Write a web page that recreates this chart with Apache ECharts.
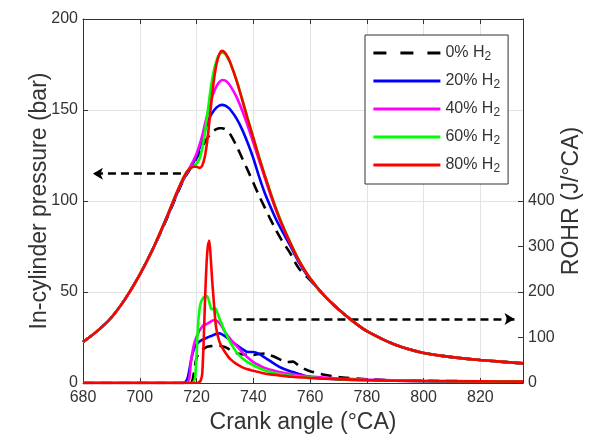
<!DOCTYPE html>
<html>
<head>
<meta charset="utf-8">
<script src="https://cdn.jsdelivr.net/npm/echarts@6/dist/echarts.min.js"></script>
<style>
  html, body { margin: 0; padding: 0; background: #fff; }
  #chart { width: 603px; height: 437px; }
</style>
</head>
<body>
<div id="chart"></div>
<script>
// Crank angle grids (°CA)
const crankP = [680, 685, 690, 695, 700, 705, 710, 713, 715, 716, 717, 718, 719, 720, 721, 722, 723, 724, 725, 726, 727, 728, 729, 730, 731, 732, 734, 736, 738, 740, 742, 744, 746, 748, 750, 753, 756, 760, 765, 770, 775, 780, 790, 800, 810, 820, 835];
const crankR = [680, 715, 716, 716.5, 717, 717.5, 718, 718.5, 719, 719.5, 720, 720.5, 721, 721.5, 722, 722.5, 723, 723.5, 724, 724.5, 725, 725.5, 726, 726.5, 727, 728, 729, 730, 731, 732, 734, 736, 738, 740, 742, 744, 746, 748, 750, 752, 754, 756, 758, 760, 765, 770, 780, 790, 800, 820, 835];

// In-cylinder pressure (bar)
const pressure0  = [22.5, 28.5, 36, 46.5, 59.5, 74.8, 92, 103.3, 110.3, 113.3, 115.8, 118.2, 120.7, 123.5, 126.5, 129.5, 132.5, 135, 137, 138.5, 139.5, 140, 140, 139.5, 138.3, 136.3, 130.5, 123.8, 117, 110, 103, 96.5, 90, 84, 78.5, 71.3, 63, 56.5, 48, 40.5, 34, 28.5, 21, 16.5, 14.2, 12.6, 10.8];
const pressure20 = [22.5, 28.5, 36, 46.5, 59.5, 74.8, 92.3, 103.6, 110.6, 113.6, 116.2, 118.7, 121.3, 124.6, 128.8, 134, 139, 143.5, 147, 149.5, 151.3, 152.4, 152.8, 152.5, 151.5, 150, 145.5, 139.5, 132, 123.5, 113.5, 104.5, 97, 90, 84, 75.5, 66.5, 57, 48, 40.5, 34, 28.5, 21, 16.5, 14.2, 12.6, 10.8];
const pressure40 = [22.5, 28.5, 36, 46.5, 59.5, 75, 93, 104.3, 111.2, 114, 116.6, 119.5, 122.5, 126, 130.5, 136, 142.5, 149, 155, 159.5, 163, 165.3, 166.5, 166.3, 165, 163, 157.5, 150, 141.5, 132, 122.5, 113, 103.5, 95, 87, 76.8, 67.3, 57.4, 48, 40.5, 34, 28.5, 21, 16.5, 14.2, 12.6, 10.8];
const pressure60 = [22.5, 28.5, 36, 46.5, 59.5, 75, 93, 104.5, 111.5, 114.5, 116.8, 118.2, 119.2, 120.5, 123, 129, 138, 150, 162, 171, 177, 180.5, 181.5, 181, 178.5, 175.5, 167, 156.5, 145.5, 135, 124.5, 114.5, 105, 96, 88, 77.3, 67.7, 57.6, 48, 40.5, 34, 28.5, 21, 16.5, 14.2, 12.6, 10.8];
const pressure80 = [22.5, 28.5, 36, 46.5, 59.5, 75, 93, 104.5, 111.5, 114.5, 116.8, 118.2, 118.8, 118.8, 118.2, 119.5, 125, 136, 151, 165, 175, 180.5, 182.5, 181.5, 179, 175.5, 166.5, 156, 145, 134.5, 124, 114, 104.5, 95.5, 87.5, 77, 67.5, 57.5, 48, 40.5, 34, 28.5, 21, 16.5, 14.2, 12.6, 10.8];

// Rate of heat release (J/°CA)
const rohr0  = [0, 0, 0, 0, 0, 0, 0, 5, 20, 40, 55, 62, 67, 70, 72.5, 75, 77, 79, 80, 80.5, 81, 81.5, 82, 82, 82, 82, 81, 79, 76, 72, 66, 63, 61.5, 61.5, 64, 65, 61, 56, 50, 46, 47, 38, 31, 26, 18, 13, 8, 6, 5, 3.5, 3];
const rohr20 = [0, 0, 2, 6, 14, 30, 48, 62, 73, 80, 85, 88, 91, 93, 95, 96, 97.5, 99, 100.5, 102, 103, 104, 105.5, 107, 108, 109, 107, 103, 98, 93, 84, 75, 68, 68, 64, 56, 48, 40, 33, 28, 24, 20, 16, 13, 10, 8, 6, 5, 4, 3, 2.5];
const rohr40 = [0, 0, 0, 0, 3, 12, 45, 66, 82, 93, 101, 108, 115, 120, 124, 127, 128, 129.5, 131, 133, 135, 137, 138, 138, 137, 132, 124, 112, 104, 96, 82, 68, 56, 46, 39, 33, 29, 26, 23, 21, 19, 17, 15.5, 14, 12, 10, 7.5, 6, 5, 4, 3.5];
const rohr60 = [0, 0, 0, 0, 0, 0, 0, 0, 3, 12, 60, 125, 160, 177, 184, 188, 190, 191, 188, 177, 165, 162, 164, 165, 160, 143, 128, 113, 100, 88, 68, 55, 46, 39, 33, 28, 24, 21, 19, 17, 15.5, 14, 13, 12, 10, 8.5, 6.5, 5.5, 4.5, 3.5, 3];
const rohr80 = [0, 0, 0, 0, 0, 0, 0, 0, 0, 0, 0, 0.5, 2, 6, 20, 90, 185, 260, 302, 313, 275, 225, 185, 145, 118, 92, 78, 68, 59, 52, 42, 35, 30, 27, 24, 21, 19, 17.5, 16, 14.5, 13.5, 12.5, 12, 11, 9.5, 8.5, 6.5, 5, 4.5, 3.5, 3];

// Legend entries and axis ticks
const seriesNames = ['0% H2', '20% H2', '40% H2', '60% H2', '80% H2'];
const xTicks = [680, 700, 720, 740, 760, 780, 800, 820];
const rohrTicks = [0, 100, 200, 300, 400];

// Annotation arrows: pressure curves read on the left axis, ROHR on the right
const arrowPressure = [[714.5, 115], [683.5, 115]];
const arrowRohr = [[733, 140.5], [832, 140.5]];

const colors = ['#000000', '#0000ff', '#ff00ff', '#00ff00', '#ff0000'];
const FONT = '"Liberation Sans", Arial, Helvetica, sans-serif';
const TEXT = '#333333';
const AXIS = '#333333';

const pressures = [pressure0, pressure20, pressure40, pressure60, pressure80];
const rohrs = [rohr0, rohr20, rohr40, rohr60, rohr80];
const toPairs = (xs, ys) => xs.map((x, i) => [x, ys[i]]);

function lineStyleFor(i) {
  return {
    color: colors[i],
    width: 2.6,
    type: i === 0 ? [11, 7] : 'solid',
    cap: 'butt'
  };
}

function arrowMark(points) {
  return {
    silent: true,
    symbol: ['none', 'arrow'],
    symbolSize: [9, 10],
    label: { show: false },
    emphasis: { disabled: true },
    lineStyle: { color: '#000', width: 2.5, type: [8, 5] },
    data: [[{ coord: points[0] }, { coord: points[1] }]]
  };
}

const series = [];
pressures.forEach((vals, i) => {
  series.push({
    name: seriesNames[i],
    type: 'line',
    xAxisIndex: 0,
    yAxisIndex: 0,
    data: toPairs(crankP, vals),
    symbol: 'none',
    smooth: 0.25,
    lineStyle: lineStyleFor(i),
    itemStyle: { color: colors[i] },
    emphasis: { disabled: true },
    z: 2 + i,
    markLine: i === 0 ? arrowMark(arrowPressure) : undefined
  });
});
rohrs.forEach((vals, i) => {
  series.push({
    name: seriesNames[i],
    type: 'line',
    xAxisIndex: 0,
    yAxisIndex: 1,
    data: toPairs(crankR, vals),
    symbol: 'none',
    smooth: 0.2,
    lineStyle: lineStyleFor(i),
    itemStyle: { color: colors[i] },
    emphasis: { disabled: true },
    z: 2 + i,
    markLine: i === 0 ? arrowMark(arrowRohr) : undefined
  });
});

const option = {
  animation: false,
  backgroundColor: '#ffffff',
  textStyle: { fontFamily: FONT },
  grid: { left: 83, right: 80, top: 19, bottom: 54, containLabel: false, outerBoundsMode: 'none' },
  legend: {
    orient: 'vertical',
    left: 365,
    top: 35,
    padding: [10, 8, 9, 7],
    itemWidth: 67,
    itemHeight: 14,
    itemGap: 10,
    backgroundColor: '#ffffff',
    borderColor: '#333333',
    borderWidth: 1,
    borderRadius: 0,
    selectedMode: false,
    itemStyle: { opacity: 0 },
    data: seriesNames.map((n, i) => ({
      name: n,
      itemStyle: { opacity: 0 },
      lineStyle: i === 0 ? { type: [13, 14], width: 2.8 } : { width: 2.8 }
    })),
    formatter: n => '{a|' + n.slice(0, -1) + '}{s|2}',
    textStyle: {
      fontFamily: FONT,
      color: TEXT,
      rich: {
        a: { fontSize: 16, color: TEXT, fontFamily: FONT, lineHeight: 20 },
        s: { fontSize: 12, color: TEXT, fontFamily: FONT, lineHeight: 8, verticalAlign: 'bottom' }
      }
    }
  },
  xAxis: [
    {
      type: 'value',
      min: 680,
      max: 835,
      interval: 20,
      name: 'Crank angle (°CA)',
      nameLocation: 'middle',
      nameGap: 28,
      nameMoveOverlap: false,
      nameTextStyle: { fontSize: 23, color: TEXT, fontFamily: FONT, verticalAlign: 'top' },
      axisLine: { show: true, onZero: false, lineStyle: { color: AXIS, width: 1 } },
      axisTick: { show: true, inside: true, length: 5, lineStyle: { color: AXIS } },
      axisLabel: {
        customValues: xTicks,
        formatter: v => (xTicks.indexOf(v) >= 0 ? String(v) : ''),
        fontSize: 16, color: TEXT, fontFamily: FONT, margin: 7
      },
      splitLine: { show: true, lineStyle: { color: '#e3e3e3', width: 1 } }
    },
    {
      type: 'value',
      position: 'top',
      min: 680,
      max: 835,
      interval: 20,
      axisLine: { show: true, onZero: false, lineStyle: { color: AXIS, width: 1 } },
      axisTick: { show: true, inside: true, length: 5, lineStyle: { color: AXIS } },
      axisLabel: { show: false },
      splitLine: { show: false }
    }
  ],
  yAxis: [
    {
      type: 'value',
      min: 0,
      max: 200,
      interval: 50,
      name: 'In-cylinder pressure (bar)',
      nameLocation: 'middle',
      nameGap: 32,
      nameMoveOverlap: false,
      nameTextStyle: { fontSize: 23, color: TEXT, fontFamily: FONT },
      axisLine: { show: true, onZero: false, lineStyle: { color: AXIS, width: 1 } },
      axisTick: { show: true, inside: true, length: 5, lineStyle: { color: AXIS } },
      axisLabel: { fontSize: 16, color: TEXT, fontFamily: FONT, margin: 5 },
      splitLine: { show: true, lineStyle: { color: '#e3e3e3', width: 1 } }
    },
    {
      type: 'value',
      position: 'right',
      min: 0,
      max: 800,
      interval: 100,
      name: 'ROHR (J/°CA)',
      nameLocation: 'middle',
      nameGap: 37,
      nameMoveOverlap: false,
      nameTextStyle: { fontSize: 23, color: TEXT, fontFamily: FONT },
      axisLine: { show: true, onZero: false, lineStyle: { color: AXIS, width: 1 } },
      axisTick: { show: true, inside: true, length: 5, customValues: rohrTicks, lineStyle: { color: AXIS } },
      axisLabel: {
        customValues: rohrTicks,
        formatter: v => (rohrTicks.indexOf(v) >= 0 ? String(v) : ''),
        fontSize: 16, color: TEXT, fontFamily: FONT, margin: 5
      },
      splitLine: { show: false }
    }
  ],
  series: series
};

const chart = echarts.init(document.getElementById('chart'), null, { renderer: 'canvas' });
chart.setOption(option);
</script>
</body>
</html>
